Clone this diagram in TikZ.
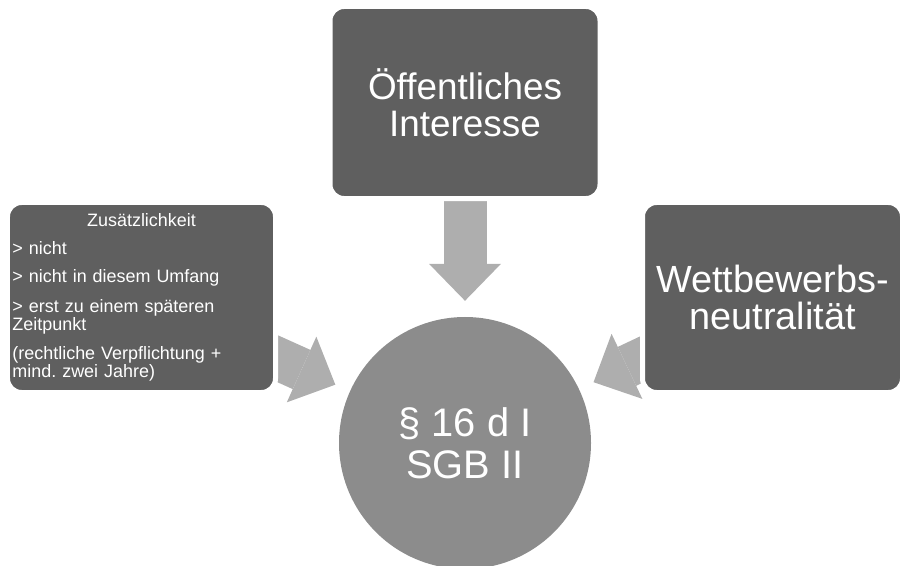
\documentclass[tikz,border=0pt]{standalone}
\usepackage{fontspec}
\setmainfont{Liberation Sans}
\usetikzlibrary{arrows.meta,backgrounds}

\definecolor{boxgray}{HTML}{5F5F5F}
\definecolor{circlegray}{HTML}{8C8C8C}
\definecolor{arrowgray}{HTML}{AEAEAE}

\tikzset{
  greybox/.style={rectangle, rounded corners=14bp, fill=boxgray, draw=white, line width=5bp,
    text=white, align=center, font=\fontsize{37}{37}\selectfont},
  blockarrow/.style={draw=arrowgray, line width=43bp,
    -{Triangle[width=72bp, length=37bp, line width=0pt]}, shorten >=16bp}
}

\begin{document}
\begin{tikzpicture}[x=1bp,y=-1bp]
\useasboundingbox (0,0) rectangle (903,566);

\node[greybox, minimum width=270bp, minimum height=192bp] (interesse) at (465,102.5) {Öffentliches\\Interesse};

\node[greybox, minimum width=268bp, minimum height=190bp, text width=258bp, inner xsep=5bp,
  align=left, font=\fontsize{18}{16}\selectfont] (zusatz) at (141.5,297.5)
  {\makebox[258bp]{Zusätzlichkeit}\\[12bp]
   > nicht\\[12bp]
   > nicht in diesem Umfang\\[12bp]
   > erst zu einem späteren\\
   Zeitpunkt\\[12bp]
   (rechtliche Verpflichtung +\\
   mind.\ zwei Jahre)};

\node[greybox, minimum width=260bp, minimum height=190bp, font=\fontsize{38}{37}\selectfont] (wettbewerb) at (772.5,297.5) {Wettbewerbs-\\neutralität};

\node[circle, fill=circlegray, minimum size=252bp, inner sep=0pt, text=white, align=center,
  font=\fontsize{40}{42}\selectfont] (sgb) at (465,443) {§ 16 d I\\SGB II};

\begin{scope}[on background layer]
\draw[blockarrow] (interesse.center) -- (sgb);
\draw[blockarrow] (zusatz.center) -- (sgb);
\draw[blockarrow] (wettbewerb.center) -- (sgb);
\end{scope}
\end{tikzpicture}
\end{document}
